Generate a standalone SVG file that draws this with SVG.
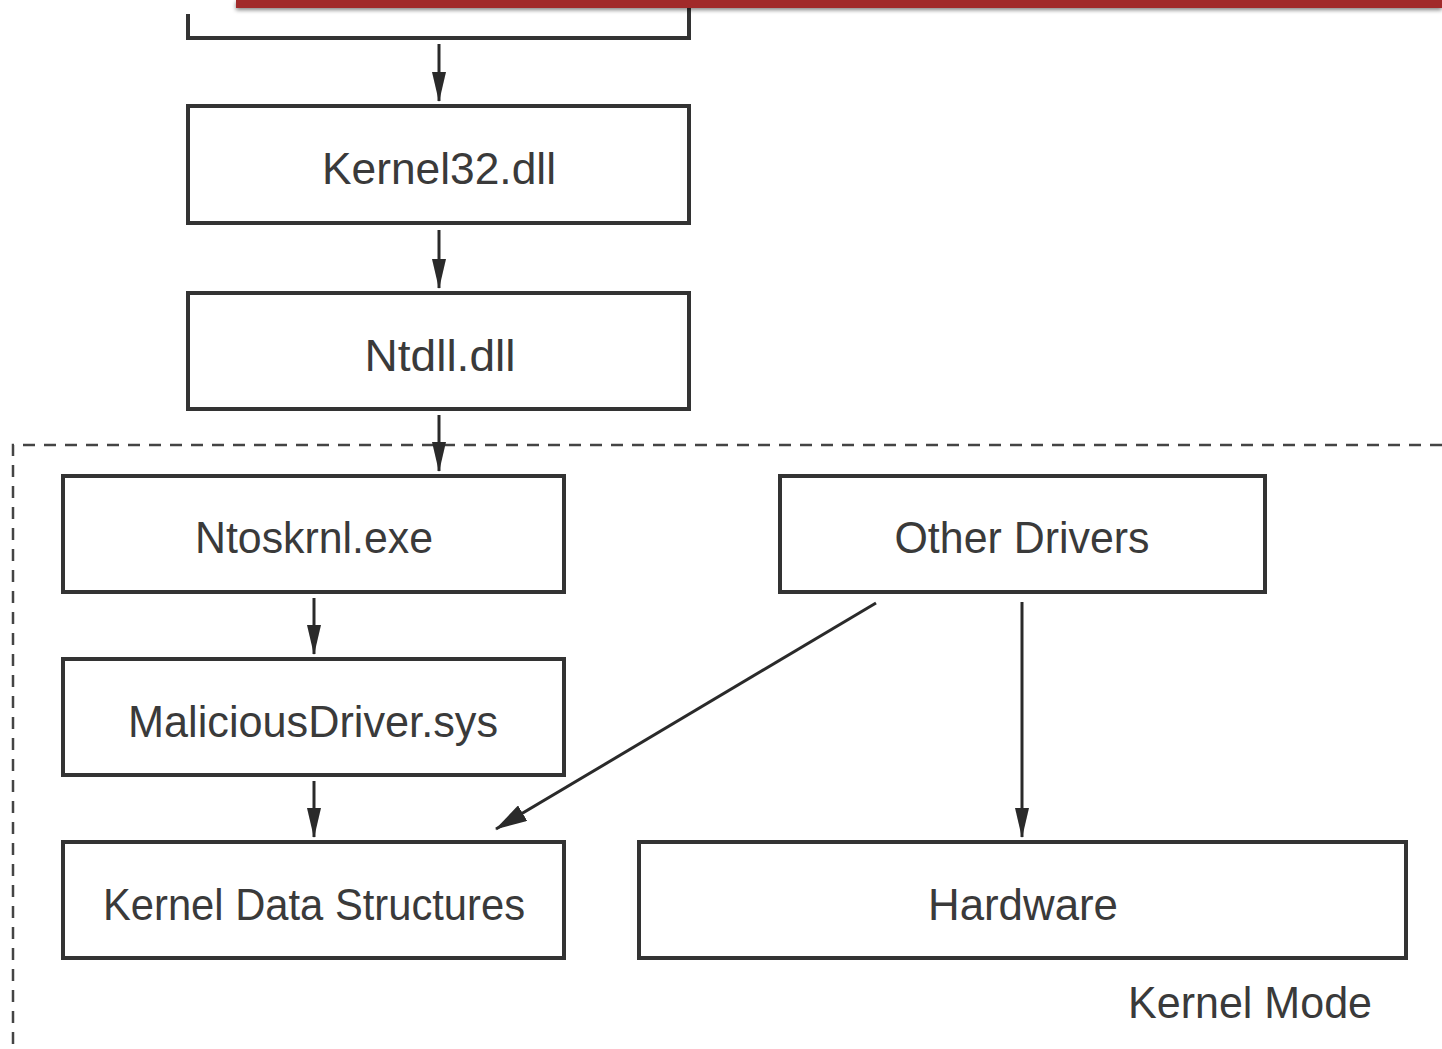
<svg xmlns="http://www.w3.org/2000/svg" width="1442" height="1049" viewBox="0 0 1442 1049">
<defs>
<style>
.box{fill:#fff;stroke:#333;stroke-width:4}
.lbl{font-family:"Liberation Sans",Arial,sans-serif;font-size:44px;fill:#3a3a3a;text-anchor:middle}
.conn{stroke:#2a2a2a;stroke-width:3;fill:none}
.dash{stroke:#444;stroke-width:2.5;fill:none;stroke-dasharray:12 9}
</style>
<marker id="ahb" viewBox="0 0 30 14" refX="29" refY="7" markerWidth="30" markerHeight="14" markerUnits="userSpaceOnUse" orient="auto">
<path d="M0,0 L30,7 L0,14 z" fill="#2a2a2a"/>
</marker>
<marker id="ahd" viewBox="0 0 32 18" refX="31" refY="9" markerWidth="32" markerHeight="18" markerUnits="userSpaceOnUse" orient="auto">
<path d="M0,0 L32,9 L0,18 z" fill="#2a2a2a"/>
</marker>
<filter id="sh" x="-5%" y="-50%" width="110%" height="250%">
<feGaussianBlur in="SourceAlpha" stdDeviation="2"/>
<feOffset dy="2"/>
<feComponentTransfer><feFuncA type="linear" slope="0.5"/></feComponentTransfer>
<feMerge><feMergeNode/><feMergeNode in="SourceGraphic"/></feMerge>
</filter>
</defs>
<rect width="1442" height="1049" fill="#fff"/>

<g id="kernel-mode-region">
<path class="dash" d="M1442,445 L13,445 L13,1049"/>
<text class="lbl" x="1250" y="1018" textLength="244" lengthAdjust="spacingAndGlyphs">Kernel Mode</text>
</g>

<g id="top-box">
<path class="box" d="M188,14 L188,38 L689,38 L689,0" fill="none"/>
</g>

<g id="banner">
<rect x="236" y="0" width="1206" height="8" fill="#a12a2b" filter="url(#sh)"/>
</g>

<g id="kernel32">
<rect class="box" x="188" y="106" width="501" height="117"/>
<text class="lbl" x="439" y="184" textLength="234" lengthAdjust="spacingAndGlyphs">Kernel32.dll</text>
</g>

<g id="ntdll">
<rect class="box" x="188" y="293" width="501" height="116"/>
<text class="lbl" x="440" y="371" textLength="151" lengthAdjust="spacingAndGlyphs">Ntdll.dll</text>
</g>

<g id="ntoskrnl">
<rect class="box" x="63" y="476" width="501" height="116"/>
<text class="lbl" x="314" y="553" textLength="238" lengthAdjust="spacingAndGlyphs">Ntoskrnl.exe</text>
</g>

<g id="other-drivers">
<rect class="box" x="780" y="476" width="485" height="116"/>
<text class="lbl" x="1022" y="553" textLength="255" lengthAdjust="spacingAndGlyphs">Other Drivers</text>
</g>

<g id="malicious-driver">
<rect class="box" x="63" y="659" width="501" height="116"/>
<text class="lbl" x="313" y="737" textLength="370" lengthAdjust="spacingAndGlyphs">MaliciousDriver.sys</text>
</g>

<g id="kernel-data-structures">
<rect class="box" x="63" y="842" width="501" height="116"/>
<text class="lbl" x="314" y="920" textLength="422" lengthAdjust="spacingAndGlyphs">Kernel Data Structures</text>
</g>

<g id="hardware">
<rect class="box" x="639" y="842" width="767" height="116"/>
<text class="lbl" x="1023" y="920" textLength="190" lengthAdjust="spacingAndGlyphs">Hardware</text>
</g>

<g id="connectors">
<line class="conn" x1="439" y1="44" x2="439" y2="101" marker-end="url(#ahb)"/>
<line class="conn" x1="439" y1="230" x2="439" y2="288" marker-end="url(#ahb)"/>
<line class="conn" x1="439" y1="415" x2="439" y2="471" marker-end="url(#ahb)"/>
<line class="conn" x1="314" y1="598" x2="314" y2="654" marker-end="url(#ahb)"/>
<line class="conn" x1="314" y1="781" x2="314" y2="837" marker-end="url(#ahb)"/>
<line class="conn" x1="1022" y1="602" x2="1022" y2="837" marker-end="url(#ahb)"/>
<line class="conn" x1="876" y1="603" x2="496" y2="829" marker-end="url(#ahd)"/>
</g>
</svg>
